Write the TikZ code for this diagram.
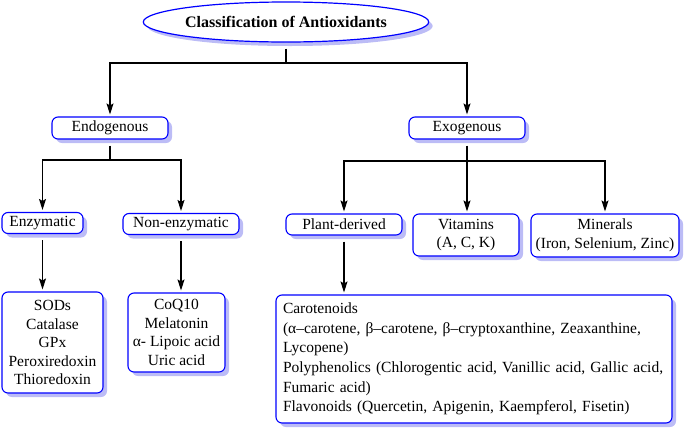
\documentclass[tikz,border=0pt]{standalone}
\usepackage{fontspec}
\setmainfont{Liberation Serif}
\usetikzlibrary{shapes,arrows.meta,shadows,positioning}
\definecolor{shadowblue}{RGB}{188,188,246}

\begin{document}
\begin{tikzpicture}[x=1pt,y=-1pt,
			main node/.style={ellipse, draw=blue, line width=1.2pt, fill=white, inner sep=0pt, text=black, font=\fontsize{16}{19}\selectfont\bfseries, drop shadow={fill=shadowblue, opacity=1, shadow xshift=4pt, shadow yshift=-4pt}},
			second node/.style={rectangle, draw=blue, line width=1.1pt, fill=white, rounded corners=6pt, text=black, align=center, inner sep=0pt, font=\fontsize{15.5}{18.5}\selectfont, drop shadow={fill=shadowblue, opacity=1, shadow xshift=4pt, shadow yshift=-4pt}},
			link/.style={black, line width=1.2pt, shorten <=6pt},
			arrow/.style={link, -{Stealth[length=11pt,width=7pt,inset=2pt]}, shorten >=2pt}]
			\useasboundingbox (0,0) rectangle (685,429);
			
			\node[main node,minimum width=215pt,minimum height=40pt] (1) at (286,22) {Classification of Antioxidants};
			\node[second node,minimum width=116pt,minimum height=22pt] (2) at (110,128) {Endogenous};
			\node[second node,minimum width=116pt,minimum height=22pt] (3) at (467,128) {Exogenous};
			\node[second node,minimum width=81pt,minimum height=21pt] (4) at (42.5,223) {Enzymatic};
			\node[second node,minimum width=116pt,minimum height=21pt] (5) at (181,224) {Non-enzymatic};
			\node[second node,minimum width=101pt,minimum height=101pt] (6) at (52.5,342.5) {SODs\\Catalase\\GPx\\Peroxiredoxin\\Thioredoxin};
			\node[second node,minimum width=97pt,minimum height=79pt] (7) at (176.5,332.5) {CoQ10\\Melatonin\\α- Lipoic acid\\Uric acid};
			\node[second node,minimum width=116pt,minimum height=21pt] (8) at (344,224.5) {Plant-derived};
			\node[second node,minimum width=106pt,minimum height=42pt] (9) at (466,235) {Vitamins\\(A, C, K)};
			\node[second node,minimum width=148pt,minimum height=43pt] (10) at (605,235.5) {Minerals\\(Iron, Selenium, Zinc)};
			\node[second node,align=left,text width=382pt,inner xsep=7pt,minimum height=128pt,font=\fontsize{15.5}{19.6}\selectfont] (11) at (474,359) {Carotenoids\\(α–carotene, β–carotene, β–cryptoxanthine, Zeaxanthine,\\Lycopene)\\Polyphenolics (Chlorogentic acid, Vanillic acid, Gallic acid,\\Fumaric acid)\\Flavonoids (Quercetin, Apigenin, Kaempferol, Fisetin)};
			
			% bus points
			\coordinate (b1) at (1.south |- 0,63);
			\coordinate (b2) at (2.south |- 0,160);
			\coordinate (b3) at (3.south |- 0,161);
			
			\draw[link] (1.south) -- (b1);
			\draw[arrow,shorten <=0pt] (b1) -| (2.north);
			\draw[arrow,shorten <=0pt] (b1) -| (3.north);
			
			\draw[link] (2.south) -- (b2);
			\draw[arrow,shorten <=0pt] (b2) -| (4.north);
			\draw[arrow,shorten <=0pt] (b2) -| (5.north);
			
			\draw[link] (3.south) -- (b3);
			\draw[arrow,shorten <=0pt] (b3) -| (8.north);
			\draw[arrow,shorten <=0pt] (b3) -- (b3 |- 9.north);
			\draw[arrow,shorten <=0pt] (b3) -| (10.north);
			
			\draw[arrow] (4.south) -- (4.south |- 6.north);
			\draw[arrow] (5.south) -- (5.south |- 7.north);
			\draw[arrow] (8.south) -- (8.south |- 11.north);
			
		\end{tikzpicture}
\end{document}
